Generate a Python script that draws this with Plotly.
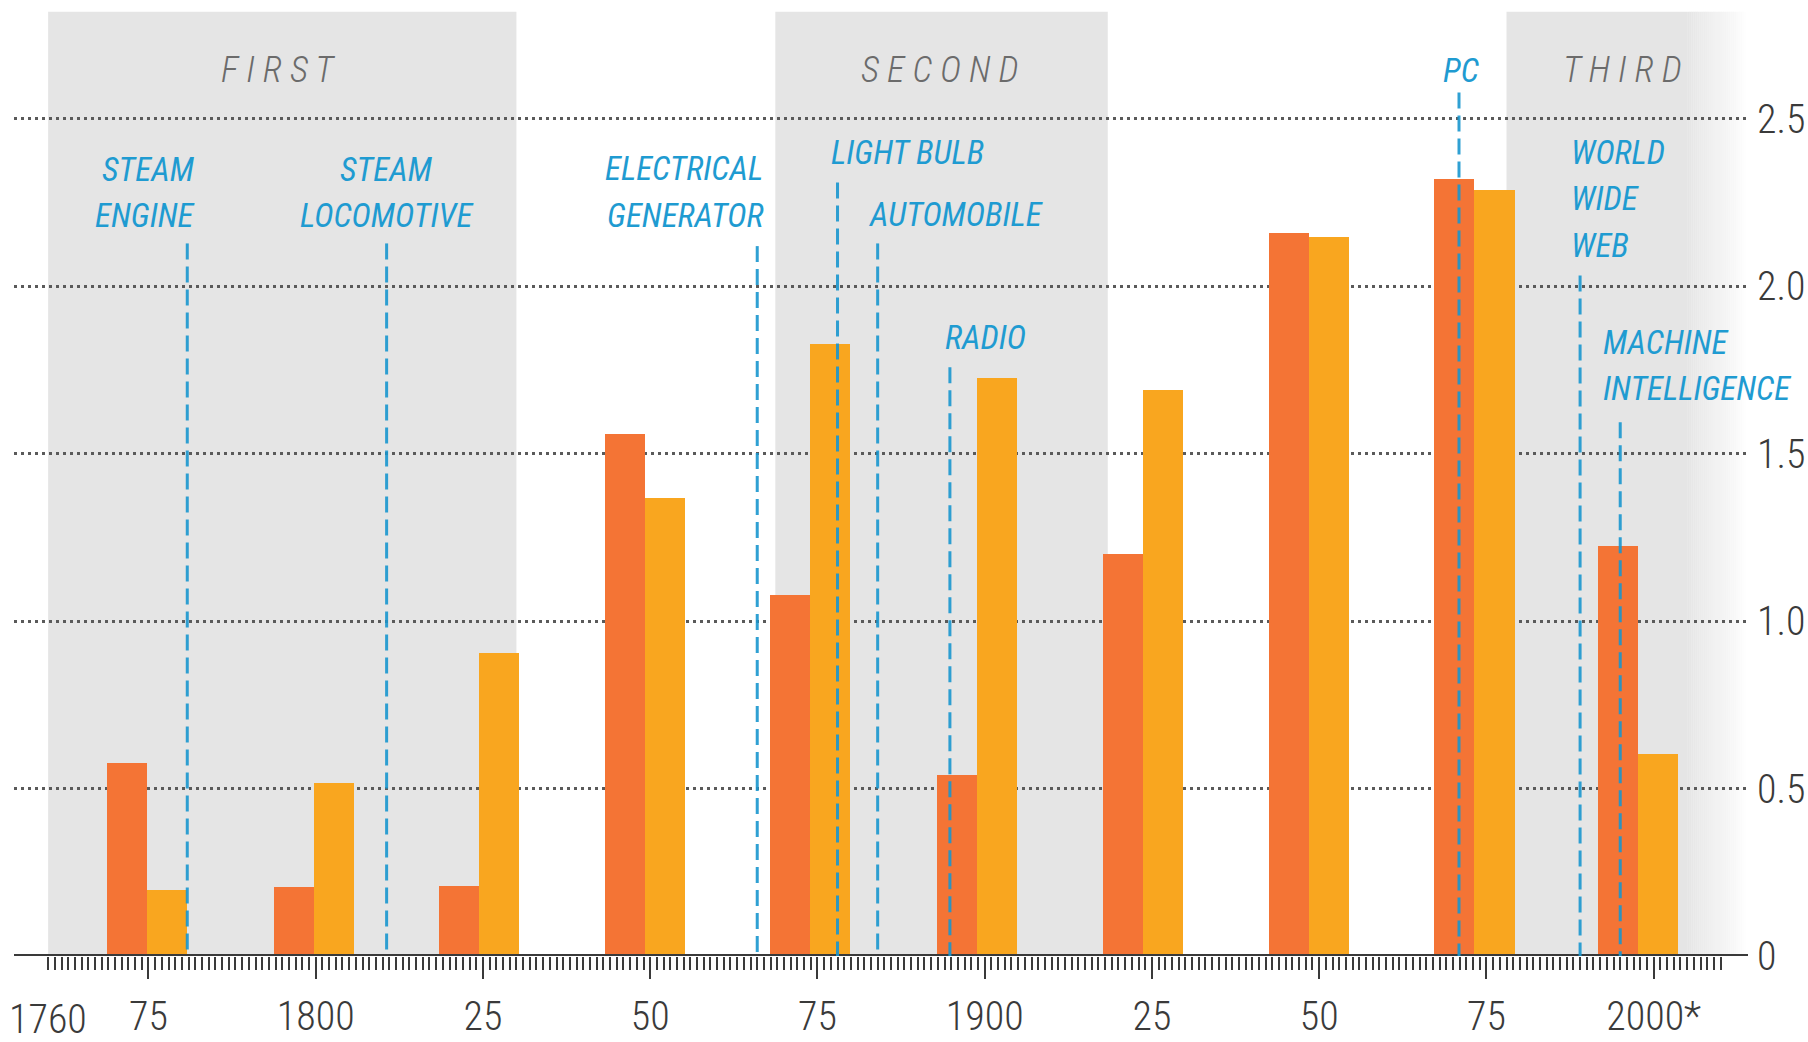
import plotly.graph_objects as go

# Bar pairs: midpoints of each 25-year period and the two growth series (% a year)
period_mid = [1774.8, 1799.7, 1824.4, 1849.2, 1873.9, 1898.8, 1923.7, 1948.5, 1973.2, 1997.7]
series_orange = [0.576, 0.207, 0.21, 1.56, 1.078, 0.541, 1.202, 2.158, 2.32, 1.223]
series_yellow = [0.198, 0.516, 0.906, 1.367, 1.828, 1.727, 1.691, 2.148, 2.289, 0.604]

# Key inventions: year marker and how high its guide line reaches
invention_names = ["STEAM ENGINE", "STEAM LOCOMOTIVE", "ELECTRICAL GENERATOR", "LIGHT BULB",
                   "AUTOMOBILE", "RADIO", "PC", "WORLD WIDE WEB", "MACHINE INTELLIGENCE"]
invention_year = [1780.8, 1810.6, 1866.0, 1878.0, 1884.0, 1894.8, 1970.9, 1989.0, 1995.0]
invention_top = [2.128, 2.128, 2.12, 2.31, 2.128, 1.758, 2.579, 2.032, 1.594]

# Industrial revolutions (shaded eras)
era_names = ["FIRST", "SECOND", "THIRD"]
era_start = [1760, 1868.7, 1978.0]
era_end = [1830, 1918.4, 2005.0]

# Axis ticks
x_tickvals = [1775, 1800, 1825, 1850, 1875, 1900, 1925, 1950, 1975, 2000]
x_ticktext = ["75", "1800", "25", "50", "75", "1900", "25", "50", "75", "2000*"]
y_tickvals = [0, 0.5, 1.0, 1.5, 2.0, 2.5]
y_ticktext = ["0", "0.5", "1.0", "1.5", "2.0", "2.5"]

ORANGE = "#F47435"
YELLOW = "#F9A61F"
GREY_BAND = "#E5E5E5"
BLUE = "#1F9BD1"
INK = "#3a3a3a"
FONT = "Roboto Condensed"

X_RANGE = [1754.9, 2014.1]
Y_RANGE = [0, 2.84]
BAND_TOP = 2.82

fig = go.Figure()
fig.add_trace(go.Bar(x=period_mid, y=series_orange, width=6, offset=-6,
                     marker=dict(color=ORANGE, line=dict(width=0)), showlegend=False))
fig.add_trace(go.Bar(x=period_mid, y=series_yellow, width=6, offset=0,
                     marker=dict(color=YELLOW, line=dict(width=0)), showlegend=False))

# Shaded eras, the last one fading out to the right
for x0, x1 in zip(era_start, era_end):
    fig.add_shape(type="rect", xref="x", yref="y", x0=x0, x1=x1, y0=0, y1=BAND_TOP,
                  fillcolor=GREY_BAND, line=dict(width=0), layer="below")
fade_from, fade_to, steps = era_end[-1], 2014.1, 30
step = (fade_to - fade_from) / steps
for i in range(steps):
    fig.add_shape(type="rect", xref="x", yref="y",
                  x0=fade_from + i * step, x1=fade_from + (i + 1) * step + 0.02,
                  y0=0, y1=BAND_TOP, fillcolor=GREY_BAND, opacity=1 - (i + 0.5) / steps,
                  line=dict(width=0), layer="below")

# Baseline
fig.add_shape(type="line", xref="x", yref="y", x0=X_RANGE[0], x1=X_RANGE[1], y0=0, y1=0,
              line=dict(color=INK, width=4), layer="above")

# Invention guide lines
for yr, top in zip(invention_year, invention_top):
    fig.add_shape(type="line", xref="x", yref="y", x0=yr, x1=yr, y0=top, y1=0,
                  line=dict(color="rgba(24,150,206,0.9)", width=3, dash="16px,7px"),
                  layer="above")

# Invention labels: (anchor year, alignment, y of each text line)
label_place = [
    (1782.3, "right", [2.350, 2.210]),
    (1810.6, "center", [2.350, 2.210]),
    (1867.2, "right", [2.351, 2.211]),
    (1876.7, "left", [2.399]),
    (1882.3, "left", [2.214]),
    (1893.7, "left", [1.848]),
    (1971.2, "center", [2.644]),
    (1987.4, "left", [2.399, 2.263, 2.122]),
    (1992.1, "left", [1.832, 1.695]),
]
label_lines = [["STEAM", "ENGINE"], ["STEAM", "LOCOMOTIVE"], ["ELECTRICAL", "GENERATOR"],
               ["LIGHT BULB"], ["AUTOMOBILE"], ["RADIO"], ["PC"], ["WORLD", "WIDE", "WEB"],
               ["MACHINE", "INTELLIGENCE"]]
for (xa, anchor, ys), lines in zip(label_place, label_lines):
    for txt, yv in zip(lines, ys):
        fig.add_annotation(x=xa, y=yv, xref="x", yref="y", text=txt, showarrow=False,
                           xanchor=anchor, yanchor="middle",
                           font=dict(family=FONT, size=33, color=BLUE, style="italic"))

# Era titles, letter-spaced
era_label_x = [1794.4, 1893.2, 1995.4]
for name, xa in zip(era_names, era_label_x):
    fig.add_annotation(x=xa, y=2.647, xref="x", yref="y", text=" ".join(name), showarrow=False,
                       xanchor="center", yanchor="middle",
                       font=dict(family=FONT, size=36, color="#6b6b6b", style="italic", weight=300))

# First year label sits on a minor tick
fig.add_annotation(x=1760, y=0, xref="x", yref="y", text="1760", showarrow=False,
                   xanchor="center", yanchor="middle", yshift=-63,
                   font=dict(family=FONT, size=40, color=INK, weight=300))

fig.update_layout(
    width=1808, height=1042,
    margin=dict(l=14, r=60, t=5, b=86, autoexpand=False),
    paper_bgcolor="white", plot_bgcolor="white",
    barmode="overlay", bargap=0,
    showlegend=False,
    xaxis=dict(range=X_RANGE, showgrid=False, zeroline=False, showline=False, automargin=False,
               tickmode="array", tickvals=x_tickvals, ticktext=x_ticktext,
               ticks="outside", ticklen=22, tickwidth=2, tickcolor=INK,
               ticklabelstandoff=3,
               tickfont=dict(family=FONT, size=40, color=INK, weight=300),
               minor=dict(tickvals=list(range(1760, 2011)), ticks="outside", ticklen=13,
                          tickwidth=1.5, tickcolor=INK, showgrid=False)),
    yaxis=dict(range=Y_RANGE, side="right", zeroline=False, showline=False, automargin=False,
               tickmode="array", tickvals=y_tickvals, ticktext=y_ticktext, ticks="",
               showgrid=True, gridcolor="#5a5a5a", gridwidth=3, griddash="3px,4px",
               ticklabelstandoff=8,
               tickfont=dict(family=FONT, size=40, color=INK, weight=300)),
)

fig.write_html("out.html")
